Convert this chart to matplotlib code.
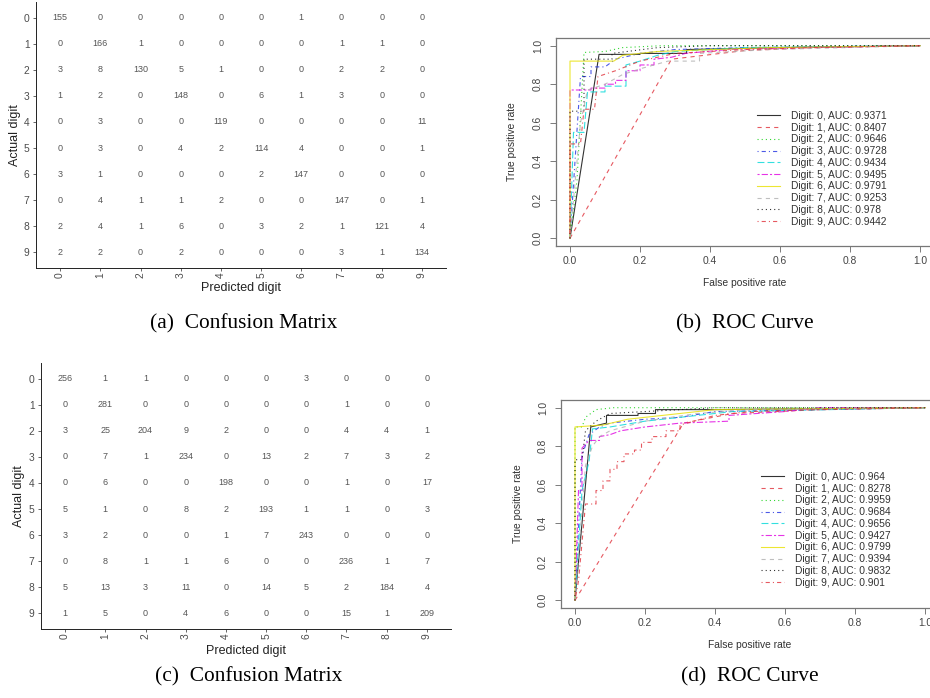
import numpy as np
import matplotlib
matplotlib.use("Agg")
import matplotlib.pyplot as plt

W, H = 930, 698
plt.rcParams['font.family'] = ['Liberation Sans', 'DejaVu Sans']
plt.rcParams['lines.scale_dashes'] = False

digits = [str(d) for d in range(10)]

# confusion matrix (a), rows = actual, cols = predicted
cm_a = [
    [155, 0, 0, 0, 0, 0, 1, 0, 0, 0],
    [0, 166, 1, 0, 0, 0, 0, 1, 1, 0],
    [3, 8, 130, 5, 1, 0, 0, 2, 2, 0],
    [1, 2, 0, 148, 0, 6, 1, 3, 0, 0],
    [0, 3, 0, 0, 119, 0, 0, 0, 0, 11],
    [0, 3, 0, 4, 2, 114, 4, 0, 0, 1],
    [3, 1, 0, 0, 0, 2, 147, 0, 0, 0],
    [0, 4, 1, 1, 2, 0, 0, 147, 0, 1],
    [2, 4, 1, 6, 0, 3, 2, 1, 121, 4],
    [2, 2, 0, 2, 0, 0, 0, 3, 1, 134],
]

# confusion matrix (c)
cm_c = [
    [256, 1, 1, 0, 0, 0, 3, 0, 0, 0],
    [0, 281, 0, 0, 0, 0, 0, 1, 0, 0],
    [3, 25, 204, 9, 2, 0, 0, 4, 4, 1],
    [0, 7, 1, 234, 0, 13, 2, 7, 3, 2],
    [0, 6, 0, 0, 198, 0, 0, 1, 0, 17],
    [5, 1, 0, 8, 2, 193, 1, 1, 0, 3],
    [3, 2, 0, 0, 1, 7, 243, 0, 0, 0],
    [0, 8, 1, 1, 6, 0, 0, 236, 1, 7],
    [5, 13, 3, 11, 0, 14, 5, 2, 184, 4],
    [1, 5, 0, 4, 6, 0, 0, 15, 1, 209],
]

auc_b = ['0.9371', '0.8407', '0.9646', '0.9728', '0.9434',
         '0.9495', '0.9791', '0.9253', '0.978', '0.9442']
auc_d = ['0.964', '0.8278', '0.9959', '0.9684', '0.9656',
         '0.9427', '0.9799', '0.9394', '0.9832', '0.901']

# ROC curve vertices (fpr, tpr), panel (b)
roc_b = [
    [(0, 0), (0.083, 0.955), (0.2, 0.955), (0.2, 0.96), (0.333, 0.96), (0.333, 0.98), (0.6, 0.99), (1, 1)],
    [(0, 0), (0.29, 0.93), (0.5, 0.975), (0.7, 0.99), (1, 1)],
    [(0, 0), (0.02, 0.3), (0.04, 0.965), (0.1, 0.97), (0.15, 0.99), (0.26, 1.0), (1, 1)],
    [(0, 0), (0.03, 0.84), (0.06, 0.84), (0.06, 0.89), (0.1, 0.89), (0.13, 0.93),
     (0.2, 0.96), (0.3, 0.98), (0.5, 0.99), (1, 1)],
    [(0, 0), (0.01, 0.55), (0.04, 0.55), (0.05, 0.76), (0.1, 0.76), (0.1, 0.79), (0.16, 0.79),
     (0.16, 0.9), (0.2, 0.92), (0.25, 0.95), (0.3, 0.97), (0.5, 0.99), (1, 1)],
    [(0, 0), (0, 0.77), (0.06, 0.77), (0.06, 0.78), (0.1, 0.78), (0.1, 0.8), (0.13, 0.8),
     (0.13, 0.82), (0.16, 0.82), (0.16, 0.87), (0.2, 0.87), (0.2, 0.9), (0.24, 0.9),
     (0.24, 0.93), (0.29, 0.94), (0.33, 0.96), (0.45, 0.98), (0.65, 0.99), (1, 1)],
    [(0, 0), (0, 0.92), (0.125, 0.92), (0.15, 0.95), (0.25, 0.97), (0.57, 0.99), (1, 1)],
    [(0, 0), (0.03, 0.6), (0.05, 0.77), (0.1, 0.8), (0.15, 0.85), (0.2, 0.88), (0.28, 0.92),
     (0.37, 0.92), (0.37, 0.96), (0.57, 0.98), (1, 1)],
    [(0, 0), (0, 0.66), (0.04, 0.66), (0.04, 0.93), (0.12, 0.93), (0.12, 0.96),
     (0.25, 0.99), (0.4, 1.0), (1, 1)],
    [(0, 0), (0, 0.49), (0.03, 0.49), (0.04, 0.67), (0.07, 0.67), (0.08, 0.84), (0.13, 0.87),
     (0.2, 0.92), (0.3, 0.96), (0.5, 0.98), (0.7, 0.99), (1, 1)],
]

# panel (d)
roc_d = [
    [(0, 0), (0.045, 0.9), (0.09, 0.92), (0.09, 0.96), (0.18, 0.96), (0.18, 0.97),
     (0.23, 0.97), (0.23, 0.99), (0.4, 0.99), (1, 1)],
    [(0, 0), (0.31, 0.92), (0.45, 0.97), (0.7, 0.99), (1, 1)],
    [(0, 0), (0, 0.9), (0.02, 0.9), (0.03, 0.95), (0.06, 0.99), (0.11, 1.0), (1, 1)],
    [(0, 0), (0.02, 0.75), (0.04, 0.86), (0.07, 0.9), (0.1, 0.92), (0.2, 0.94),
     (0.3, 0.95), (0.4, 0.98), (1, 1)],
    [(0, 0), (0.02, 0.57), (0.04, 0.72), (0.05, 0.89), (0.1, 0.9), (0.2, 0.93),
     (0.3, 0.95), (0.45, 0.98), (1, 1)],
    [(0, 0), (0.01, 0.57), (0.02, 0.57), (0.02, 0.79), (0.04, 0.83), (0.07, 0.83),
     (0.07, 0.85), (0.1, 0.86), (0.13, 0.88), (0.2, 0.9), (0.3, 0.92), (0.44, 0.93),
     (0.44, 0.96), (0.6, 0.98), (0.7, 1.0), (1, 1)],
    [(0, 0), (0, 0.9), (0.08, 0.91), (0.15, 0.94), (0.3, 0.97), (0.4, 0.99), (1, 1)],
    [(0, 0), (0.03, 0.7), (0.05, 0.8), (0.07, 0.85), (0.1, 0.88), (0.2, 0.93),
     (0.35, 0.97), (0.5, 0.99), (1, 1)],
    [(0, 0), (0, 0.73), (0.02, 0.73), (0.03, 0.88), (0.06, 0.93), (0.1, 0.97),
     (0.2, 0.98), (0.4, 1.0), (1, 1)],
    [(0, 0), (0.01, 0.1), (0.03, 0.5), (0.06, 0.5), (0.06, 0.57), (0.08, 0.57), (0.08, 0.62),
     (0.1, 0.62), (0.1, 0.68), (0.12, 0.68), (0.12, 0.72), (0.14, 0.72), (0.14, 0.76),
     (0.17, 0.76), (0.17, 0.78), (0.19, 0.78), (0.19, 0.82), (0.22, 0.82), (0.22, 0.85),
     (0.26, 0.85), (0.26, 0.88), (0.3, 0.88), (0.3, 0.91), (0.4, 0.96), (0.5, 0.98),
     (0.7, 0.99), (1, 1)],
]

# R palette / lty cycle
colors = ['#000000', '#e0303a', '#00cd00', '#2030e0', '#00d8d8',
          '#e000e0', '#e8e000', '#b0b0b0', '#000000', '#e0303a']
dash_styles = ['-', (0, (3, 3)), (0, (0.8, 2.2)), (0, (0.8, 2.2, 3, 2.2)),
               (0, (5, 2.2)), (0, (1.5, 1.5, 4.5, 1.5))]


def px_axes(fig, x0, y0, x1, y1):
    return fig.add_axes([x0 / W, 1 - y1 / H, (x1 - x0) / W, (y1 - y0) / H])


def draw_cm(fig, cm, box, xlab_y, ylab_x, caption, cap_y):
    x0, y0, x1, y1 = box
    ax = px_axes(fig, x0, y0, x1, y1)
    for i, row in enumerate(cm):
        for j, v in enumerate(row):
            ax.text(j, i, str(v), ha='center', va='center', fontsize=6.5, color='#555555')
    ax.set_xlim(-0.6, 9.6)
    ax.set_ylim(9.6, -0.6)
    ax.set_xticks(range(10))
    ax.set_yticks(range(10))
    ax.set_xticklabels(digits, rotation=90)
    ax.set_yticklabels(digits)
    ax.tick_params(labelsize=7.4, labelcolor='#4d4d4d', color='#4d4d4d',
                   length=2.5, width=0.6)
    ax.tick_params(axis='y', pad=2.2)
    ax.tick_params(axis='x', pad=0.8)
    for s in ['top', 'right']:
        ax.spines[s].set_visible(False)
    for s in ['left', 'bottom']:
        ax.spines[s].set_linewidth(0.7)
        ax.spines[s].set_color('#222222')
    ax.patch.set_alpha(0)
    fig.text((x0 + x1) / 2 / W, 1 - xlab_y / H, 'Predicted digit', ha='center',
             va='center', fontsize=9, color='#222222')
    fig.text(ylab_x / W, 1 - (y0 + y1) / 2 / H, 'Actual digit', ha='center',
             va='center', rotation=90, fontsize=9, color='#222222')
    fig.text((x0 + x1) / 2 / W + 0.003, 1 - cap_y / H, caption, ha='center',
             va='baseline', fontsize=15.4, family='Liberation Serif')


def draw_roc(fig, curves, aucs, box, leg_xy, xlab_y, ylab_x, caption, cap_y):
    x0, y0, x1, y1 = box
    ax = px_axes(fig, x0, y0, x1, y1)
    handles = []
    for k, pts in enumerate(curves):
        pts = np.array(pts)
        ln, = ax.plot(pts[:, 0], pts[:, 1], color=colors[k],
                      linestyle=dash_styles[k % 6], lw=0.8, alpha=0.8,
                      label='Digit: %d, AUC: %s' % (k, aucs[k]))
        handles.append(ln)
    ax.set_xlim(-0.04, 1.04)
    ax.set_ylim(-0.04, 1.04)
    ticks = [0.0, 0.2, 0.4, 0.6, 0.8, 1.0]
    ax.set_xticks(ticks)
    ax.set_yticks(ticks)
    ax.set_xticklabels(['%.1f' % t for t in ticks])
    ax.set_yticklabels(['%.1f' % t for t in ticks], rotation=90, va='center')
    ax.tick_params(axis='x', pad=3.5)
    ax.tick_params(axis='y', pad=5.5)
    ax.tick_params(labelsize=7.4, labelcolor='#444444', color='#666666',
                   length=4, width=0.6)
    for s in ax.spines.values():
        s.set_color('#777777')
        s.set_linewidth(0.9)
    lx, ly = leg_xy
    ax.legend(handles=handles, loc='upper left', frameon=False,
              bbox_to_anchor=(lx / W, 1 - ly / H), bbox_transform=fig.transFigure,
              borderpad=0, borderaxespad=0, handlelength=2.25, handletextpad=1.1,
              labelspacing=0.17, fontsize=7.4, labelcolor='#333333')
    fig.text(745 / W + (x0 - 556) / W, 1 - xlab_y / H, 'False positive rate',
             ha='center', va='center', fontsize=7.4, color='#333333')
    fig.text(ylab_x / W, 1 - (y0 + y1) / 2 / H, 'True positive rate', ha='center',
             va='center', rotation=90, fontsize=7.4, color='#333333')
    fig.text(745 / W + (x0 - 556) / W, 1 - cap_y / H, caption, ha='center',
             va='baseline', fontsize=15.4, family='Liberation Serif')


fig = plt.figure(figsize=(W / 100, H / 100), dpi=100)

draw_cm(fig, cm_a, (36, 2, 446, 268), 288, 15, '(a)  Confusion Matrix', 328)
draw_cm(fig, cm_c, (41, 363, 451, 629), 651, 19, '(c)  Confusion Matrix', 681)
draw_roc(fig, roc_b, auc_b, (556, 38, 934, 246), (757, 111), 283, 512,
         '(b)  ROC Curve', 328)
draw_roc(fig, roc_d, auc_d, (561, 400, 939, 608), (761, 472), 645, 518,
         '(d)  ROC Curve', 681)

fig.savefig('out.png', dpi=100)
